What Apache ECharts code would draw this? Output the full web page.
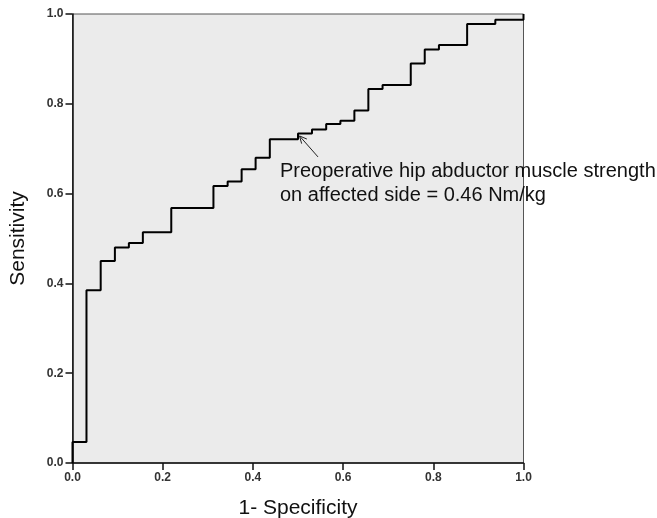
<!DOCTYPE html>
<html>
<head>
<meta charset="utf-8">
<script src="https://cdn.jsdelivr.net/npm/echarts@6/dist/echarts.min.js"></script>
<style>
html,body{margin:0;padding:0;background:#fff;}
#chart{width:657px;height:518px;}
</style>
</head>
<body>
<div id="chart"></div>
<script>
// ROC curve: false positive rate (1 - specificity) at each step, and sensitivity reached there
var fpr = [0, 0.031, 0.0625, 0.094, 0.125, 0.156, 0.219, 0.3125, 0.344, 0.375, 0.406, 0.4375, 0.5, 0.531, 0.5625, 0.594, 0.625, 0.656, 0.6875, 0.75, 0.781, 0.8125, 0.875, 0.9375, 1.0];
var tpr = [0.047, 0.385, 0.45, 0.48, 0.49, 0.514, 0.568, 0.617, 0.627, 0.654, 0.680, 0.721, 0.734, 0.743, 0.755, 0.762, 0.785, 0.833, 0.842, 0.890, 0.921, 0.931, 0.978, 0.987, 1.0];
var tickLabels = ['0.0', '0.2', '0.4', '0.6', '0.8', '1.0'];
var annotationPoint = [0.5, 0.734];
var annotationLines = ['Preoperative hip abductor muscle strength', 'on affected side = 0.46 Nm/kg'];
var xTitle = '1- Specificity';
var yTitle = 'Sensitivity';

var stair = [[0, 0]];
var prevY = 0;
for (var i = 0; i < fpr.length; i++) {
  stair.push([fpr[i], prevY]);
  stair.push([fpr[i], tpr[i]]);
  prevY = tpr[i];
}

var FONT = 'Arial, "Liberation Sans", sans-serif';
var chart = echarts.init(document.getElementById('chart'), null, {renderer: 'canvas'});

function fmt(v) { return tickLabels[Math.round(v * 5)]; }

var axisCommon = {
  type: 'value', min: 0, max: 1, interval: 0.2,
  nameLocation: 'middle',
  nameTextStyle: {fontFamily: FONT, fontSize: 21, color: '#111'},
  axisLine: {show: true, lineStyle: {color: '#111', width: 1.5}},
  axisTick: {show: true, length: 7, lineStyle: {color: '#111', width: 1.5}},
  splitLine: {show: false},
  axisLabel: {formatter: fmt, fontFamily: FONT, fontSize: 12, fontWeight: 'bold', color: '#333'}
};

chart.setOption({
  animation: false,
  backgroundColor: '#fff',
  grid: {left: 72.5, top: 14, width: 451, height: 449, show: true, backgroundColor: '#ebebeb', borderColor: '#555', borderWidth: 1, containLabel: false, outerBoundsMode: 'none'},
  xAxis: echarts.util.merge({name: xTitle, nameGap: 35, axisLabel: {margin: 9}}, axisCommon, false),
  yAxis: echarts.util.merge({name: yTitle, nameGap: 44, axisLabel: {margin: 9}}, axisCommon, false),
  series: [{
    type: 'line', data: stair, showSymbol: false, symbol: 'none',
    lineStyle: {color: '#000', width: 2}, clip: false, z: 5
  }]
});

function drawAnnotation() {
  var tip = chart.convertToPixel({gridIndex: 0}, annotationPoint);
  tip = [tip[0] + 1.5, tip[1] + 2.5];
  var tail = [tip[0] + 18.5, tip[1] + 21];
  var ang = Math.atan2(tail[1] - tip[1], tail[0] - tip[0]);
  var hl = 8, ha = 0.45;
  var h1 = [tip[0] + hl * Math.cos(ang - ha), tip[1] + hl * Math.sin(ang - ha)];
  var h2 = [tip[0] + hl * Math.cos(ang + ha), tip[1] + hl * Math.sin(ang + ha)];
  chart.setOption({
    graphic: [
      {type: 'polyline', z: 10, shape: {points: [tail, tip]}, style: {stroke: '#222', lineWidth: 1, fill: null}},
      {type: 'polyline', z: 10, shape: {points: [h1, tip, h2]}, style: {stroke: '#222', lineWidth: 1, fill: null}},
      {type: 'text', z: 10, left: 280, top: 159, style: {text: annotationLines.join('\n'), font: '20px ' + FONT, fill: '#111', lineHeight: 24, textVerticalAlign: 'top'}}
    ]
  });
}
drawAnnotation();
</script>
</body>
</html>
